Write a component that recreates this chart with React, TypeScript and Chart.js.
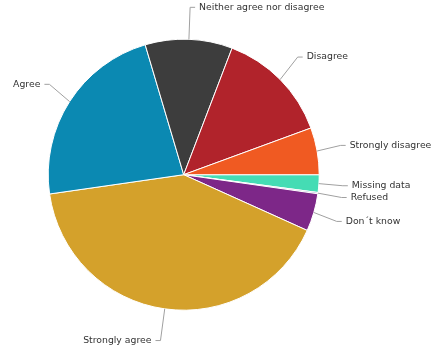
import React, { useEffect, useRef } from "react";
import { Chart, registerables } from "chart.js";

Chart.register(...registerables);

// Categories, clockwise starting at 3 o'clock
const categories = [
  "Missing data",
  "Refused",
  "Don´t know",
  "Strongly agree",
  "Agree",
  "Neither agree nor disagree",
  "Disagree",
  "Strongly disagree",
];
const values = [2.1, 0.15, 4.5, 41.0, 22.7, 10.4, 13.6, 5.6];
const colors = [
  "#45dcb4",
  "#6b7fb0",
  "#7d2788",
  "#d4a12b",
  "#0b89b2",
  "#3d3d3d",
  "#b1232b",
  "#f05a22",
];

const LABEL_DISTANCE = 32;
const FONT = "9.3px 'DejaVu Sans', Verdana, sans-serif";

const pieLabels = {
  id: "pieLabels",
  afterDatasetsDraw(chart: any) {
    const ctx = chart.ctx as CanvasRenderingContext2D;
    const meta = chart.getDatasetMeta(0);
    const labels = chart.data.labels as string[];
    ctx.save();
    ctx.font = FONT;
    ctx.textBaseline = "middle";
    meta.data.forEach((arc: any, i: number) => {
      const { x, y, startAngle, endAngle, outerRadius } = arc.getProps(
        ["x", "y", "startAngle", "endAngle", "outerRadius"],
        true
      );
      const mid = (startAngle + endAngle) / 2;
      const cos = Math.cos(mid);
      const sin = Math.sin(mid);
      const side = cos >= -0.0001 ? 1 : -1;
      const ex = x + outerRadius * cos;
      const ey = y + outerRadius * sin;
      const px = x + (outerRadius + LABEL_DISTANCE) * cos;
      const py = y + (outerRadius + LABEL_DISTANCE) * sin;
      const tx = px + side * (1 + 8 * Math.pow(Math.abs(sin), 3));
      const endX = tx - side * 4;
      const breakX = endX - side * 5;
      ctx.strokeStyle = "#a0a0a0";
      ctx.lineWidth = 1;
      ctx.beginPath();
      ctx.moveTo(ex, ey);
      ctx.lineTo(breakX, py);
      ctx.lineTo(endX, py);
      ctx.stroke();
      ctx.fillStyle = "#333333";
      ctx.textAlign = side > 0 ? "left" : "right";
      ctx.fillText(labels[i], tx, py);
    });
    ctx.restore();
  },
};

export default function App() {
  const ref = useRef<HTMLCanvasElement | null>(null);
  useEffect(() => {
    if (!ref.current) return;
    const chart = new Chart(ref.current, {
      type: "pie",
      data: {
        labels: categories,
        datasets: [
          {
            data: values,
            backgroundColor: colors,
            borderColor: "#ffffff",
            borderWidth: 1,
          },
        ],
      },
      options: {
        responsive: false,
        animation: false,
        rotation: 90,
        radius: 135.5,
        layout: { padding: { left: 48.2, right: 112.8, top: 39.2, bottom: 41.8 } },
        plugins: {
          legend: { display: false },
          tooltip: { enabled: false },
        },
      },
      plugins: [pieLabels],
    });
    return () => chart.destroy();
  }, []);
  return (
    <div style={{ position: "absolute", left: 0, top: 0, width: 432, height: 352, background: "#fff" }}>
      <canvas ref={ref} width={432} height={352} style={{ width: 432, height: 352 }} />
    </div>
  );
}
